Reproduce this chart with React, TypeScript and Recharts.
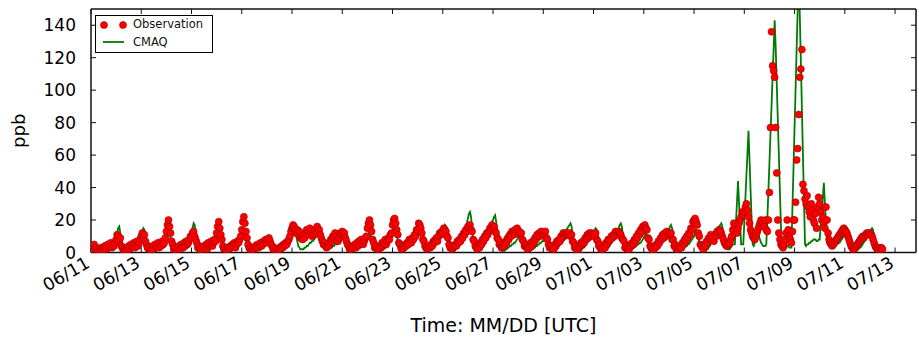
import React from 'react';
import { ComposedChart, Line, XAxis, YAxis, Legend } from 'recharts';

// Hourly values starting 06/11 00:00 UTC (one row per day, 24 hours)
const observationPpb: number[] = [
  3,2,4,5,3,2, 1,2,1,3,2,1, 2,4,3,2,5,3, 4,6,3,5,4,6, // 06/11
  8,11,10,7,9,4, 3,1,2,1,3,2, 4,2,5,3,4,6, 3,5,7,4,6,8, // 06/12
  10,12,9,11,7,5, 3,2,3,1,2,4, 2,5,3,4,6,3, 5,4,7,5,6,9, // 06/13
  13,17,20,16,12,7, 5,2,3,1,2,3, 4,2,5,4,3,6, 4,7,5,6,8,10, // 06/14
  9,12,13,10,8,6, 3,4,2,1,3,2, 4,3,5,2,6,4, 5,7,4,6,8,7, // 06/15
  12,16,19,15,11,8, 4,2,3,2,1,3, 2,4,3,5,4,6, 3,5,7,6,8,10, // 06/16
  14,19,22,18,13,9, 5,3,2,1,2,3, 2,4,3,5,3,4, 6,4,5,7,6,8, // 06/17
  6,8,9,7,5,4, 2,3,1,2,1,2, 3,2,4,3,5,4, 6,5,7,8,10,13, // 06/18
  15,17,16,14,12,14, 11,13,9,10,8,11, 9,12,14,11,13,15, 12,10,13,11,14,12, // 06/19
  16,13,14,11,9,7, 5,6,4,3,5,4, 6,8,7,10,9,12, 8,10,7,9,12,11, // 06/20
  13,11,12,9,7,5, 4,2,3,2,4,3, 5,3,6,4,7,5, 8,6,5,7,9,10, // 06/21
  15,18,20,17,13,8, 6,3,4,2,3,2, 4,3,6,4,5,8, 5,7,9,8,11,12, // 06/22
  17,20,21,18,14,11, 6,5,3,2,4,3, 5,4,6,5,8,7, 6,9,8,11,10,14, // 06/23
  14,18,17,15,12,8, 7,4,3,2,3,4, 3,5,4,7,6,8, 9,7,10,12,11,13, // 06/24
  12,15,14,13,10,9, 5,3,4,2,3,4, 5,4,7,6,8,7, 10,9,12,11,14,13, // 06/25
  16,15,17,14,13,8, 7,4,3,2,4,3, 6,5,8,7,10,9, 12,11,13,15,14,17, // 06/26
  15,16,13,12,9,8, 5,6,3,4,5,4, 7,6,9,8,11,10, 13,12,11,14,13,15, // 06/27
  12,13,11,12,8,7, 4,5,3,2,4,3, 6,4,7,6,9,8, 11,10,12,10,13,11, // 06/28
  12,11,13,9,8,5, 3,4,2,3,2,5, 4,7,6,8,7,10, 9,12,10,12,11,12, // 06/29
  11,12,10,11,7,6, 3,4,2,1,3,4, 6,5,7,6,9,8, 11,9,12,10,12,11, // 06/30
  11,10,12,8,7,4, 5,2,3,2,4,3, 6,5,8,7,8,10, 9,11,10,13,11,12, // 07/01
  13,12,11,9,8,7, 3,4,2,3,2,5, 4,6,5,8,7,10, 9,12,11,14,13,16, // 07/02
  16,17,15,14,9,8, 4,3,2,1,4,3, 5,4,7,6,9,8, 11,9,12,10,13,11, // 07/03
  12,11,12,8,8,4, 5,2,3,2,3,4, 3,6,5,8,7,10, 9,12,11,15,14,19, // 07/04
  20,21,19,17,12,10, 5,4,3,2,5,4, 7,6,9,8,11,8, 9,7,11,10,13,12, // 07/05
  14,13,12,10,8,6, 5,4,4,5,6,8, 10,14,18,16,14,12, 15,18,20,22,25,23, // 07/06
  25,28,30,26,22,18, 14,12,10,9,8,10, 12,14,16,18,20,19, 18,16,20,14,13,20, // 07/07
  37,77,136,115,112,108, 77,49,20,12,8,5, 4,3,5,8,12,20, 14,10,8,6,13,20, // 07/08
  20,31,57,64,85,108, 113,125,42,38,33,30, 35,28,25,22,30,26, 20,18,24,15,28,34, // 07/09
  30,25,20,22,18,15, 28,20,12,8,6,5, 4,5,6,7,8,9, 10,11,12,13,14,15, // 07/10
  14,13,12,10,8,6, 4,3,2,2,3,4, 5,6,7,8,9,10, 9,10,11,12,11,12, // 07/11
  12,11,10,8,6,4, 3,2,2,3,2,3,2, // 07/12 (to 12:00)
];

const cmaqPpb: number[] = [
  3,4,5,6,5,3, 2,1,1,1,1,1, 2,2,2,3,3,3, 3,4,4,4,5,6, // 06/11
  9,12,15,16,12,7, 4,2,1,1,1,1, 2,2,3,3,4,4, 4,5,5,5,6,7, // 06/12
  10,13,15,14,10,6, 3,2,1,1,1,2, 2,3,3,4,4,5, 5,4,5,6,6,7, // 06/13
  9,12,14,13,9,5, 3,2,1,1,1,1, 2,2,3,3,4,4, 5,5,6,6,7,8, // 06/14
  11,15,18,17,12,7, 4,2,1,1,1,1, 2,2,3,3,3,4, 4,4,5,5,6,7, // 06/15
  8,10,12,11,8,5, 3,2,1,1,1,1, 1,2,2,3,3,4, 4,4,5,5,6,7, // 06/16
  9,11,13,12,9,5, 3,2,1,1,1,1, 2,2,2,3,3,3, 4,4,4,5,5,6, // 06/17
  7,9,10,9,7,4, 2,1,1,1,1,1, 2,2,3,3,4,5, 5,6,6,7,8,10, // 06/18
  12,15,17,16,12,7, 4,3,2,2,2,2, 3,3,4,4,5,6, 6,7,7,8,9,10, // 06/19
  11,13,15,14,10,6, 4,3,2,2,2,2, 3,3,3,4,4,5, 5,5,6,6,7,8, // 06/20
  9,11,13,12,9,5, 3,2,1,1,1,1, 2,2,3,3,4,4, 5,5,5,6,7,7, // 06/21
  8,10,12,11,8,5, 3,2,1,1,1,1, 2,2,3,4,4,5, 6,6,7,8,9,11, // 06/22
  13,16,18,17,12,7, 4,2,1,1,1,1, 2,2,3,3,4,4, 5,5,6,7,8,9, // 06/23
  10,12,14,13,10,6, 3,2,1,1,1,1, 2,2,3,4,4,5, 6,7,8,9,10,11, // 06/24
  12,15,17,16,12,7, 4,2,1,1,1,2, 2,3,3,4,5,6, 8,9,11,13,15,18, // 06/25
  21,24,25,22,15,8, 4,2,1,1,1,1, 2,2,3,4,5,7, 9,11,13,15,17,19, // 06/26
  20,22,23,19,13,7, 3,2,1,1,1,1, 2,2,3,3,4,4, 5,5,6,6,7,8, // 06/27
  9,11,12,11,8,5, 3,2,1,1,1,1, 2,2,2,3,3,4, 4,5,5,6,6,7, // 06/28
  7,9,10,9,7,4, 2,1,1,1,1,1, 2,2,3,4,5,6, 8,9,11,13,14,15, // 06/29
  16,17,18,16,11,6, 3,2,1,1,1,1, 2,2,3,3,4,5, 6,7,8,9,10,11, // 06/30
  12,14,15,14,10,6, 3,2,1,1,1,1, 2,2,3,4,5,6, 7,9,10,11,12,13, // 07/01
  15,17,18,16,11,6, 3,2,1,1,1,1, 2,2,3,3,4,4, 5,5,6,6,7,8, // 07/02
  9,11,12,11,8,5, 3,2,1,1,1,1, 2,2,3,4,5,6, 7,8,9,10,11,12, // 07/03
  14,16,17,15,11,6, 3,2,1,1,1,1, 2,2,3,3,4,4, 5,5,6,7,8,9, // 07/04
  10,12,14,13,10,6, 3,2,1,1,1,1, 2,2,3,4,5,6, 7,9,10,12,13,15, // 07/05
  16,17,18,16,12,7, 4,3,2,2,2,3, 4,5,5,5,18,31, 44,30,17,5,5,5, // 07/06
  18,33,47,61,75,57, 38,20,5,4,6,9, 11,12,10,8,6,5, 4,4,4,5,20,38, // 07/07
  55,73,90,108,125,143, 126,104,82,60,38,16, 5,4,3,3,3,4, 4,3,3,3,28,52, // 07/08
  77,101,126,150,175,146, 118,89,60,32,5,4, 5,5,6,6,7,7, 8,8,8,7,7,8, // 07/09
  8,17,25,34,43,30, 18,6,5,4,3,3, 3,3,4,4,5,5, 6,6,7,8,9,10, // 07/10
  10,11,12,11,8,5, 3,2,1,1,1,1, 2,2,3,3,4,5, 6,7,8,9,10,12, // 07/11
  13,14,15,14,10,6, 3,2,1,1,1,2,2, // 07/12 (to 12:00)
];

const dateTickLabels: string[] = [
  '06/11', '06/13', '06/15', '06/17', '06/19', '06/21', '06/23', '06/25', '06/27',
  '06/29', '07/01', '07/03', '07/05', '07/07', '07/09', '07/11', '07/13',
];
const yTicks: number[] = [0, 20, 40, 60, 80, 100, 120, 140];

const HOURS_PER_TICK = 48;
const X_END_HOURS = 788;
const tickHours = dateTickLabels.map((_, i) => i * HOURS_PER_TICK);

const rows = Array.from(
  { length: Math.max(observationPpb.length, cmaqPpb.length) },
  (_, i) => ({
    t: i,
    obs: i < observationPpb.length ? observationPpb[i] : null,
    cmaq: i < cmaqPpb.length ? cmaqPpb[i] : null,
  })
);

const FONT = 'DejaVu Sans';

const XTick = (props: any) => {
  const { x, y, payload } = props;
  const idx = tickHours.indexOf(payload.value);
  const label = idx >= 0 ? dateTickLabels[idx] : '';
  return (
    <text
      x={x}
      y={y}
      transform={`rotate(-30, ${x}, ${y})`}
      textAnchor="end"
      fontSize={17.5}
      fontFamily={FONT}
      fill="#000"
    >
      {label}
    </text>
  );
};

const LegendBox = () => (
  <div
    style={{
      width: 118,
      height: 38,
      boxSizing: 'border-box',
      border: '1.5px solid #000',
      background: '#fff',
      fontFamily: FONT,
      fontSize: 11.5,
      color: '#111',
      position: 'relative',
    }}
  >
    <svg width={40} height={36} style={{ position: 'absolute', left: 0, top: 0 }}>
      <circle cx={8} cy={9} r={3.5} fill="#ff0000" stroke="#a00000" strokeWidth={0.6} />
      <circle cx={27} cy={9} r={3.5} fill="#ff0000" stroke="#a00000" strokeWidth={0.6} />
      <line x1={7} y1={26} x2={28} y2={26} stroke="#007a00" strokeWidth={1.8} />
    </svg>
    <div style={{ position: 'absolute', left: 37, top: 1, lineHeight: '14px' }}>Observation</div>
    <div style={{ position: 'absolute', left: 37, top: 19, lineHeight: '14px' }}>CMAQ</div>
  </div>
);

export default function App() {
  return (
    <div style={{ position: 'absolute', left: 0, top: 0, width: 919, height: 337, background: '#fff', fontFamily: FONT }}>
      <ComposedChart
        width={919}
        height={337}
        data={rows}
        margin={{ top: 0, right: 0, bottom: 0, left: 0 }}
      >
        <XAxis
          xAxisId="b"
          dataKey="t"
          type="number"
          domain={[0, X_END_HOURS]}
          allowDataOverflow
          ticks={tickHours}
          interval={0}
          height={84.5}
          tickSize={-5}
          tickMargin={19}
          tick={<XTick />}
          axisLine={{ stroke: '#111', strokeWidth: 1.5 }}
          tickLine={{ stroke: '#111', strokeWidth: 1 }}
          label={{
            value: 'Time: MM/DD [UTC]',
            position: 'insideBottom',
            offset: 5,
            style: { fontSize: 19, fontFamily: FONT, fill: '#000' },
          }}
        />
        <XAxis
          xAxisId="top"
          orientation="top"
          dataKey="t"
          type="number"
          domain={[0, X_END_HOURS]}
          allowDataOverflow
          ticks={tickHours}
          interval={0}
          height={9}
          tickSize={-5}
          tickFormatter={() => ''}
          axisLine={{ stroke: '#111', strokeWidth: 1.5 }}
          tickLine={{ stroke: '#111', strokeWidth: 1 }}
        />
        <YAxis
          yAxisId="l"
          type="number"
          domain={[0, 150]}
          allowDataOverflow
          ticks={yTicks}
          interval={0}
          width={91}
          tickSize={-5}
          tickMargin={20}
          tick={{ fontSize: 17, fontFamily: FONT, fill: '#000' }}
          axisLine={{ stroke: '#111', strokeWidth: 1.5 }}
          tickLine={{ stroke: '#111', strokeWidth: 1 }}
          label={{
            value: 'ppb',
            angle: -90,
            position: 'insideLeft',
            offset: 19,
            style: { fontSize: 18, fontFamily: FONT, fill: '#000', textAnchor: 'middle' },
          }}
        />
        <YAxis
          yAxisId="r"
          orientation="right"
          type="number"
          domain={[0, 150]}
          allowDataOverflow
          ticks={yTicks}
          interval={0}
          width={3}
          tickSize={-5}
          tickFormatter={() => ''}
          axisLine={{ stroke: '#111', strokeWidth: 1.5 }}
          tickLine={{ stroke: '#111', strokeWidth: 1 }}
        />
        <Legend
          layout="vertical"
          align="center"
          verticalAlign="middle"
          content={<LegendBox />}
          wrapperStyle={{ position: 'absolute', left: 95, top: 15, width: 118, height: 38 }}
        />
        <Line
          xAxisId="b"
          yAxisId="l"
          dataKey="obs"
          name="Observation"
          stroke="none"
          strokeWidth={0}
          dot={{ r: 3.5, fill: '#ff0000', stroke: '#a00000', strokeWidth: 0.6, fillOpacity: 1 }}
          activeDot={false}
          isAnimationActive={false}
          connectNulls={false}
        />
        <Line
          xAxisId="b"
          yAxisId="l"
          dataKey="cmaq"
          name="CMAQ"
          type="linear"
          stroke="#007a00"
          strokeWidth={1.8}
          dot={false}
          activeDot={false}
          isAnimationActive={false}
          connectNulls={false}
        />
      </ComposedChart>
    </div>
  );
}
